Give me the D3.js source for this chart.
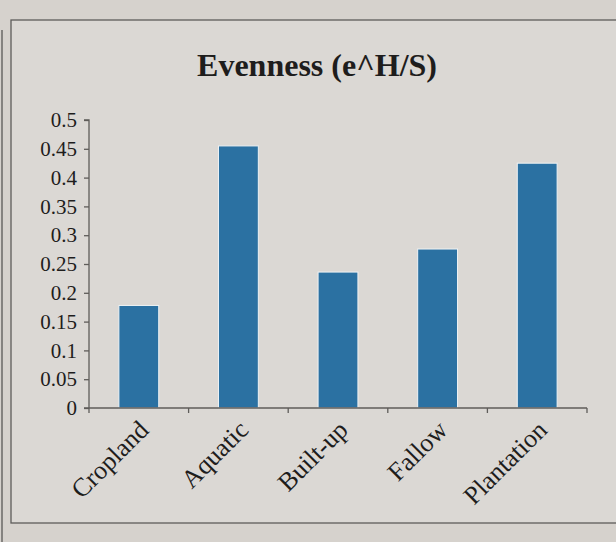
<!DOCTYPE html>
<html>
<head>
<meta charset="utf-8">
<script src="https://cdn.jsdelivr.net/npm/d3@7"></script>
<style>
  html, body { margin: 0; padding: 0; background: #d8d4cf; }
  svg { display: block; }
</style>
</head>
<body>
<svg id="chart" width="616" height="542"></svg>
<script>
const categories = ["Cropland", "Aquatic", "Built-up", "Fallow", "Plantation"];
const values = [0.178, 0.455, 0.236, 0.276, 0.425];
const yTicks = [0, 0.05, 0.1, 0.15, 0.2, 0.25, 0.3, 0.35, 0.4, 0.45, 0.5];
const yTickLabels = ["0", "0.05", "0.1", "0.15", "0.2", "0.25", "0.3", "0.35", "0.4", "0.45", "0.5"];
const title = "Evenness (e^H/S)";

const svg = d3.select("#chart");
const W = 616, H = 542;
const serif = "'Liberation Serif', 'Times New Roman', serif";

svg.append("rect").attr("width", W).attr("height", H).attr("fill", "#d6d2cd");
// page frame lines
svg.append("line").attr("x1", 2).attr("x2", 2).attr("y1", 30).attr("y2", 542)
  .attr("stroke", "#6a6866").attr("stroke-width", 1.5);
svg.append("rect").attr("x", 11).attr("y", 20).attr("width", 640).attr("height", 503)
  .attr("fill", "#dbd8d4").attr("stroke", "#5e5c5a").attr("stroke-width", 1.3);

const margin = { left: 89, right: 29, top: 120, bottom: 134 };
const x = d3.scaleBand().domain(categories).range([margin.left, W - margin.right]).paddingInner(0.6).paddingOuter(0.3);
const y = d3.scaleLinear().domain([0, 0.5]).range([H - margin.bottom, margin.top]);

svg.append("text").attr("x", 317).attr("y", 76).attr("text-anchor", "middle")
  .attr("font-family", serif).attr("font-weight", "bold").attr("font-size", 32)
  .attr("fill", "#1e1d1c").text(title);

// bars
svg.append("g").selectAll("rect").data(categories).join("rect")
  .attr("x", d => x(d))
  .attr("y", (d, i) => y(values[i]))
  .attr("width", x.bandwidth())
  .attr("height", (d, i) => y(0) - y(values[i]))
  .attr("fill", "#2b71a2")
  .attr("stroke", "#eef2f4").attr("stroke-width", 1);

// y axis
const yAxis = d3.axisLeft(y).tickValues(yTicks).tickFormat((d, i) => yTickLabels[i]).tickSize(5).tickPadding(7);
const gy = svg.append("g").attr("transform", `translate(${margin.left},0)`).call(yAxis);
gy.select(".domain").attr("stroke", "#5f5d5a").attr("stroke-width", 1.3).attr("d", `M-5,${y(0.5)}H0V${y(0)}`);
gy.selectAll(".tick line").attr("stroke", "#5f5d5a").attr("stroke-width", 1.3);
gy.selectAll(".tick text").attr("font-family", serif).attr("font-size", 21).attr("fill", "#1e1d1c");

// x axis with ticks at band boundaries
const xAxisG = svg.append("g").attr("transform", `translate(0,${y(0)})`);
const x0 = margin.left, x1 = W - margin.right;
xAxisG.append("line").attr("x1", x0 - 5).attr("x2", x1).attr("y1", 0).attr("y2", 0)
  .attr("stroke", "#5f5d5a").attr("stroke-width", 1.3);
const boundaries = d3.range(categories.length + 1).map(i => x0 + i * (x1 - x0) / categories.length);
xAxisG.selectAll("line.tk").data(boundaries).join("line").attr("class", "tk")
  .attr("x1", d => d).attr("x2", d => d).attr("y1", 0).attr("y2", 5)
  .attr("stroke", "#5f5d5a").attr("stroke-width", 1.3);
xAxisG.selectAll("text").data(categories).join("text")
  .attr("transform", d => `translate(${x(d) + x.bandwidth() / 2 + 5},17) rotate(-45)`)
  .attr("text-anchor", "end").attr("dy", "0.35em")
  .attr("font-family", serif).attr("font-size", 26).attr("fill", "#1e1d1c")
  .text(d => d);
</script>
</body>
</html>
